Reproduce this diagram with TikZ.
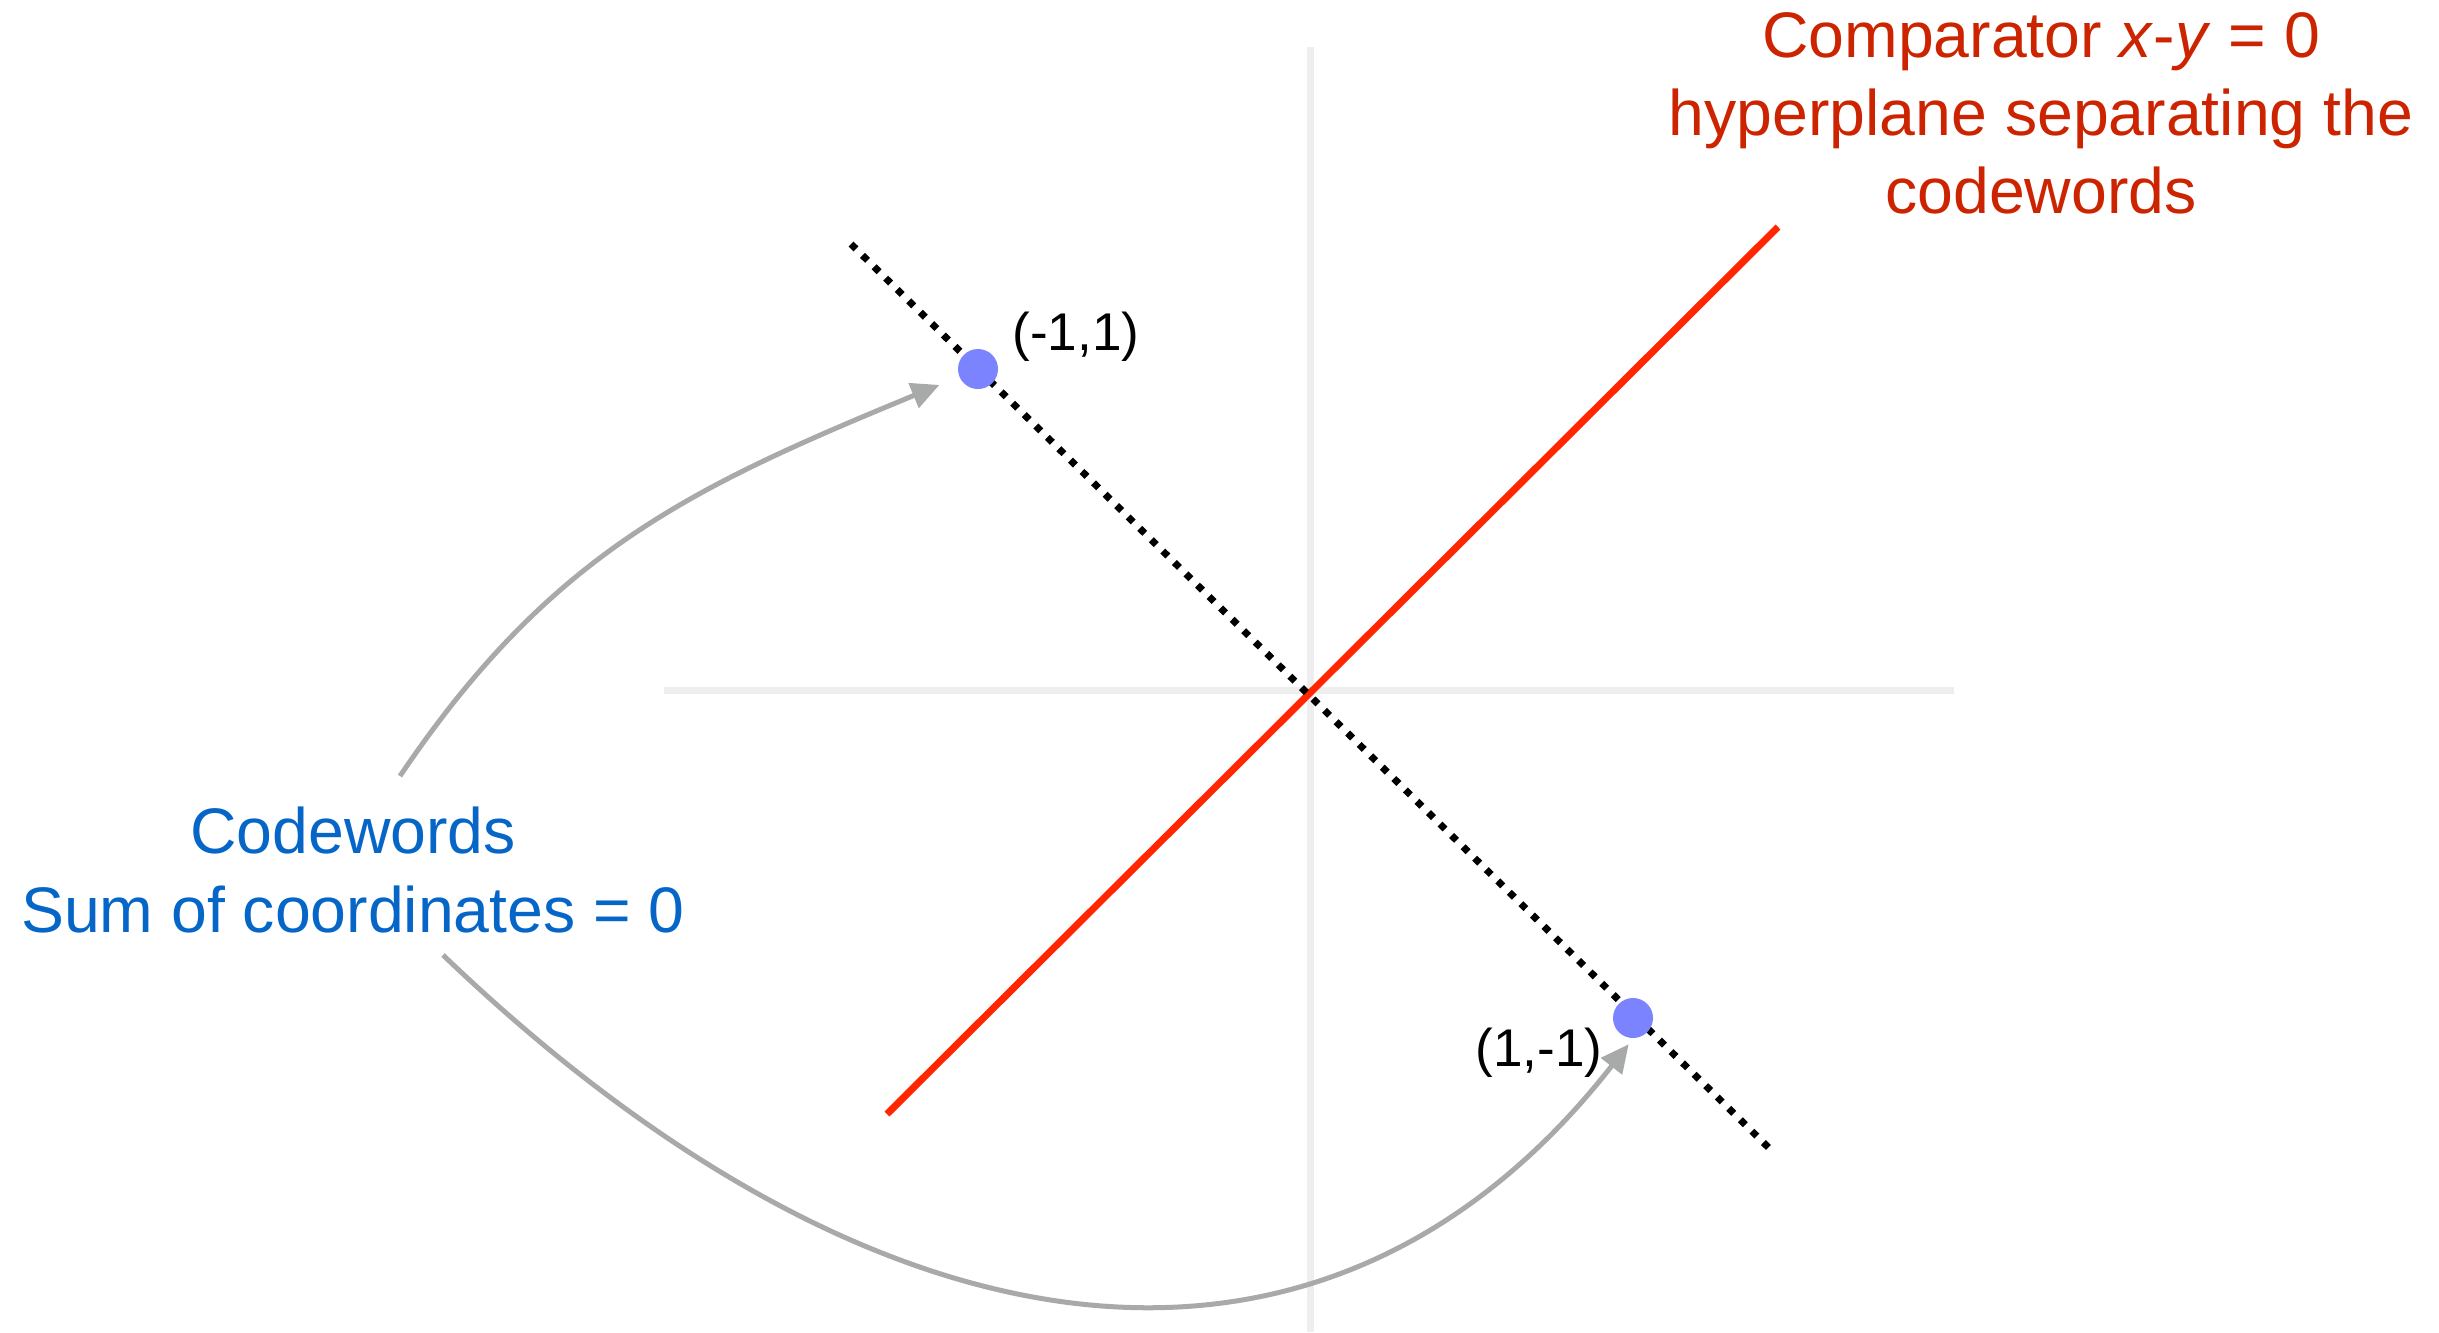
\documentclass[tikz,border=0pt]{standalone}
\usepackage{fontspec}
\setmainfont{Liberation Sans}
\usepackage{xcolor}
\usetikzlibrary{arrows.meta,positioning}
\definecolor{axisgray}{RGB}{238,238,238}
\definecolor{sepred}{RGB}{255,38,0}
\definecolor{notered}{RGB}{204,36,0}
\definecolor{noteblue}{RGB}{6,102,200}
\definecolor{ptblue}{RGB}{123,131,255}
\definecolor{arrowgray}{RGB}{168,170,169}

\begin{document}
\begin{tikzpicture}[
  x=0.01cm,
  y=-0.01cm,
  axis/.style={draw=axisgray, line width=0.07cm},
  sep/.style={draw=sepred, line width=0.07cm},
  cwline/.style={draw=black, line width=0.07cm, dash pattern=on 0.07cm off 0.092cm},
  cw/.style={circle, fill=ptblue, minimum size=0.4cm, inner sep=0pt},
  ptlabel/.style={font=\fontsize{15.1}{17}\selectfont},
  note/.style={font=\fontsize{18.3}{22.2}\selectfont, align=center},
  pointer/.style={draw=arrowgray, line width=0.05cm, -{Triangle[length=0.28cm,width=0.26cm]}}
]
\useasboundingbox (0,0) rectangle (2439,1332);
\draw[axis] (1310,47) -- (1310,1332);
\draw[axis] (664,690) -- (1954,690);
\draw[sep] (887,1114) -- (1778,227);
\draw[cwline] (851,244) -- (1769,1148);
\node[cw] (p1) at (978,369) {};
\node[cw] (p2) at (1633,1018) {};
\node[ptlabel] (l1) at (1076,337) {(-1,1)};
\node[ptlabel] (l2) at (1539,1053) {(1,-1)};
\node[note, text=notered] (sepnote) at (2041,113) {Comparator \textit{x}-\textit{y} = 0\\hyperplane separating the\\codewords};
\node[note, text=noteblue] (cwnote) at (353,870) {Codewords\\Sum of coordinates = 0};
\coordinate (upstart) at (400,776);
\coordinate (lowstart) at (443,955);
\draw[pointer, shorten >=0.21cm] (upstart) .. controls (551,552) and (692,487) .. (p1);
\draw[pointer, shorten >=0.07cm] (lowstart) .. controls (875,1369) and (1323,1435) .. (p2.south);
\end{tikzpicture}
\end{document}
